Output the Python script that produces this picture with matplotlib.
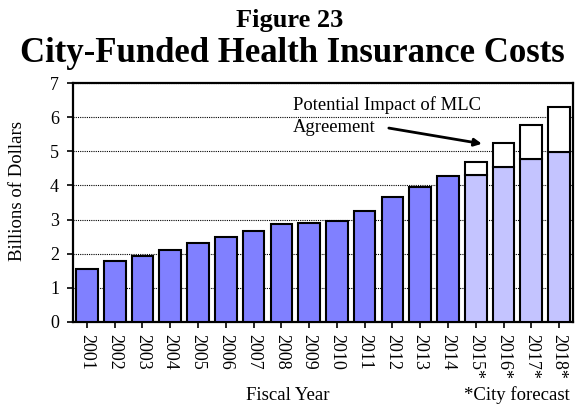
import matplotlib
matplotlib.use('Agg')
import matplotlib.pyplot as plt
import numpy as np

# -------------------------------
# DATA
# -------------------------------
years = ['2001', '2002', '2003', '2004', '2005', '2006', '2007', '2008', '2009',
         '2010', '2011', '2012', '2013', '2014', '2015*', '2016*', '2017*', '2018*']
actual = [1.54, 1.78, 1.93, 2.12, 2.31, 2.49, 2.66, 2.87, 2.91,
          2.95, 3.25, 3.65, 3.96, 4.28]
forecast_base = [4.30, 4.55, 4.78, 4.99]
mlc_impact = [0.39, 0.70, 0.98, 1.31]

plt.rcParams['font.family'] = ['Liberation Serif', 'DejaVu Serif']

W, H = 579, 404
fig = plt.figure(figsize=(W / 100, H / 100), dpi=100)
ax = fig.add_axes([73 / W, 1 - 322 / H, 500 / W, 239 / H])

x_act = np.arange(len(actual))
x_fc = np.arange(len(actual), len(years))
w = 0.78

ax.bar(x_act, actual, width=w, color='#8080ff', edgecolor='black', linewidth=1.5, zorder=3)
ax.bar(x_fc, forecast_base, width=w, color='#c4c4ff', edgecolor='black', linewidth=1.5, zorder=3)
ax.bar(x_fc, mlc_impact, bottom=forecast_base, width=w, color='white',
       edgecolor='black', linewidth=1.5, zorder=3)

ax.set_xlim(-0.5, len(years) - 0.5)
ax.set_ylim(0, 7)
ax.set_yticks(range(0, 8))
ax.set_xticks(np.arange(len(years)))
ax.set_xticklabels(years, rotation=270, fontsize=13, va='top', ha='center')
ax.tick_params(axis='y', labelsize=13, direction='out', length=4, width=1.2, pad=6)
ax.tick_params(axis='x', direction='out', length=4, width=1.2, pad=5)
ax.yaxis.grid(True, linestyle=(0, (1, 1)), color='black', linewidth=0.8)
ax.set_axisbelow(True)
for s in ax.spines.values():
    s.set_linewidth(1.6)

# axis labels
fig.text(18 / W, 1 - 191 / H, 'Billions of Dollars', rotation=90, ha='center', va='center', fontsize=13.5)
fig.text(288 / W, 1 - 395 / H, 'Fiscal Year', ha='center', va='center', fontsize=13.5)
fig.text(517 / W, 1 - 395 / H, '*City forecast', ha='center', va='center', fontsize=13.5)

# annotation for MLC impact
ax.annotate('', xy=(14.22, 5.22), xytext=(10.87, 5.68),
            arrowprops=dict(arrowstyle='-|>', color='black', lw=2,
                            shrinkA=0, shrinkB=0, mutation_scale=11),
            zorder=5)
fig.text(293 / W, 1 - 110 / H, 'Potential Impact of MLC', ha='left', va='baseline', fontsize=13.4)
fig.text(293 / W, 1 - 132 / H, 'Agreement', ha='left', va='baseline', fontsize=13.4)

# titles
fig.text(0.5, 1 - 27 / H, 'Figure 23', ha='center', va='baseline', fontsize=19, fontweight='bold')
fig.text(292 / W, 1 - 62 / H, 'City-Funded Health Insurance Costs', ha='center', va='baseline',
         fontsize=25, fontweight='bold')

fig.savefig('out.png', dpi=100)
